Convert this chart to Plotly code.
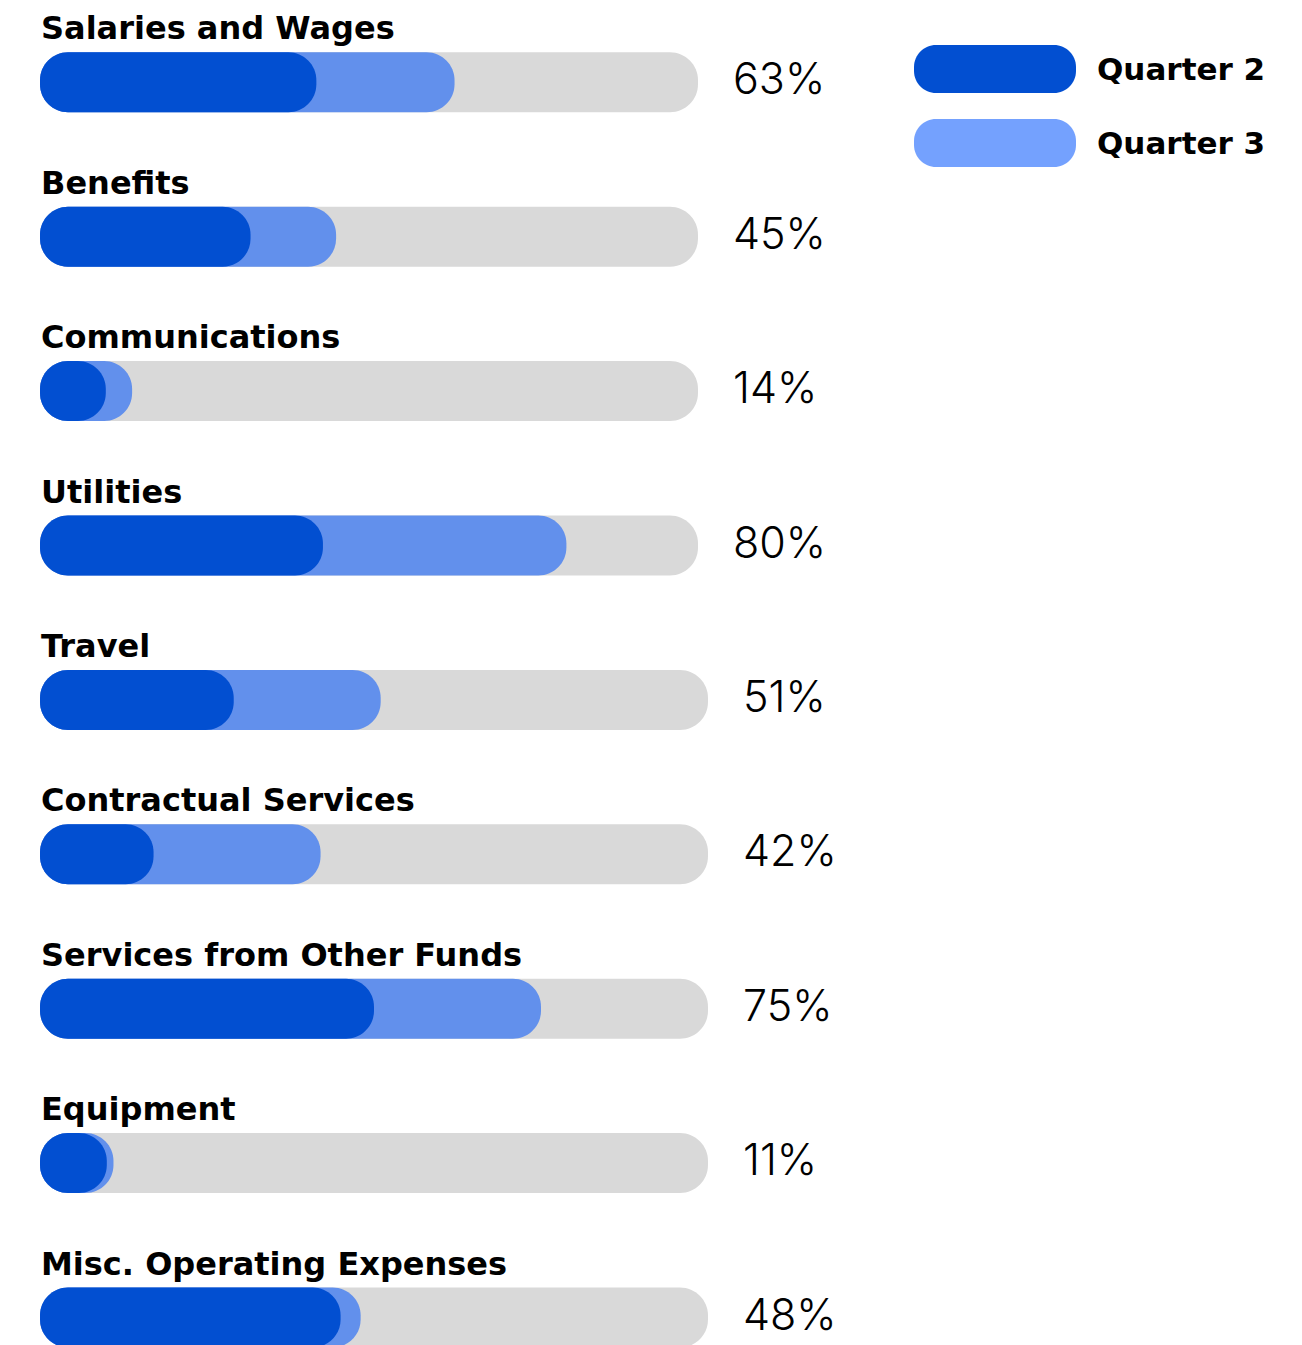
import plotly.graph_objects as go

# ---- data -------------------------------------------------------------
categories = [
    "Salaries and Wages", "Benefits", "Communications", "Utilities", "Travel",
    "Contractual Services", "Services from Other Funds", "Equipment",
    "Misc. Operating Expenses",
]
quarter_2 = [42, 32, 10, 43, 29, 17, 50, 10, 45]
quarter_3 = [63, 45, 14, 80, 51, 42, 75, 11, 48]
series_names = ["Quarter 2", "Quarter 3"]

# ---- styling ----------------------------------------------------------
W, H = 1302, 1345
DARK = "#024FD1"
LIGHT = "#6290EC"
LIGHT_KEY = "#74A1FE"
TRACK = "#D9D9D9"
TITLE_FONT = "DejaVu Sans"
VALUE_FONT = "Inter"

ROW_PITCH = 154.4          # px between row centres
FIRST_ROW = 82.3           # px from top to first row centre
BAR_H = 60                 # bar thickness in px
RADIUS = 28                # end rounding in px
KAPPA = 0.5523

# rows 0-3 sit on a slightly shorter track than the rest
AXIS_DOMAINS = {"x": (40, 698), "x2": (40, 708)}
row_axis = ["x" if i < 4 else "x2" for i in range(len(categories))]

# y axis: row index, reversed, spanning the full page height
y_top = -FIRST_ROW / ROW_PITCH
y_bottom = (H - FIRST_ROW) / ROW_PITCH
px_y = 1 / ROW_PITCH


def px_x(axis):
    a, b = AXIS_DOMAINS[axis]
    return 100 / (b - a)


def rounded_rect(x0, x1, y0, y1, rx, ry):
    k = KAPPA
    return (
        f"M {x0 + rx},{y0} L {x1 - rx},{y0} "
        f"C {x1 - rx + k * rx},{y0} {x1},{y0 + ry - k * ry} {x1},{y0 + ry} "
        f"L {x1},{y1 - ry} "
        f"C {x1},{y1 - ry + k * ry} {x1 - rx + k * rx},{y1} {x1 - rx},{y1} "
        f"L {x0 + rx},{y1} "
        f"C {x0 + rx - k * rx},{y1} {x0},{y1 - ry + k * ry} {x0},{y1 - ry} "
        f"L {x0},{y0 + ry} "
        f"C {x0},{y0 + ry - k * ry} {x0 + rx - k * rx},{y0} {x0 + rx},{y0} Z"
    )


def pill_path(x0, x1, yc, axis):
    hh = BAR_H / 2 * px_y
    return rounded_rect(x0, x1, yc - hh, yc + hh,
                        RADIUS * px_x(axis), RADIUS * px_y)


fig = go.Figure()
shapes, annotations = [], []

for i, (cat, q2, q3) in enumerate(zip(categories, quarter_2, quarter_3)):
    ax = row_axis[i]
    for x_end, color in ((100, TRACK), (q3, LIGHT), (q2, DARK)):
        shapes.append(dict(
            type="path", xref=ax, yref="y", layer="above",
            path=pill_path(0, x_end, i, ax),
            fillcolor=color, line=dict(width=0),
        ))
    # category title above the bar
    annotations.append(dict(
        xref=ax, yref="y", x=0, y=i, xanchor="left", yanchor="middle",
        xshift=-1, yshift=54, showarrow=False, text=f"<b>{cat}</b>",
        font=dict(family=TITLE_FONT, size=32, color="#000000"),
    ))
    # percentage at the end of the track
    annotations.append(dict(
        xref=ax, yref="y", x=100, y=i, xanchor="left", yanchor="middle",
        xshift=33, yshift=4, showarrow=False, text=f"{q3}%",
        font=dict(family=VALUE_FONT, size=43, color="#000000", weight=300),
    ))

# legend keys drawn as pills on the right
key_colors = [DARK, LIGHT_KEY]
key_centres = [69, 143]
kx0, kx1, kh, kr = 914, 1076, 48, 22
for name, color, yc in zip(series_names, key_colors, key_centres):
    path = rounded_rect(kx0 / W, kx1 / W,
                        1 - (yc + kh / 2) / H, 1 - (yc - kh / 2) / H,
                        kr / W, kr / H)
    shapes.append(dict(type="path", xref="paper", yref="paper", path=path,
                       fillcolor=color, line=dict(width=0)))
    annotations.append(dict(
        xref="paper", yref="paper", x=1095 / W, y=1 - yc / H,
        xanchor="left", yanchor="middle", showarrow=False,
        text=f"<b>{name}</b>",
        font=dict(family=TITLE_FONT, size=31, color="#000000"),
    ))

axis_common = dict(range=[0, 100], visible=False, fixedrange=True)
fig.update_layout(
    width=W, height=H,
    margin=dict(l=0, r=0, t=0, b=0),
    paper_bgcolor="#FFFFFF", plot_bgcolor="#FFFFFF",
    showlegend=False,
    xaxis=dict(domain=[AXIS_DOMAINS["x"][0] / W, AXIS_DOMAINS["x"][1] / W],
               anchor="y", **axis_common),
    xaxis2=dict(domain=[AXIS_DOMAINS["x2"][0] / W, AXIS_DOMAINS["x2"][1] / W],
                anchor="y", **axis_common),
    yaxis=dict(range=[y_bottom, y_top], domain=[0, 1], visible=False,
               fixedrange=True),
    shapes=shapes,
    annotations=annotations,
)

fig.write_html("out.html")
